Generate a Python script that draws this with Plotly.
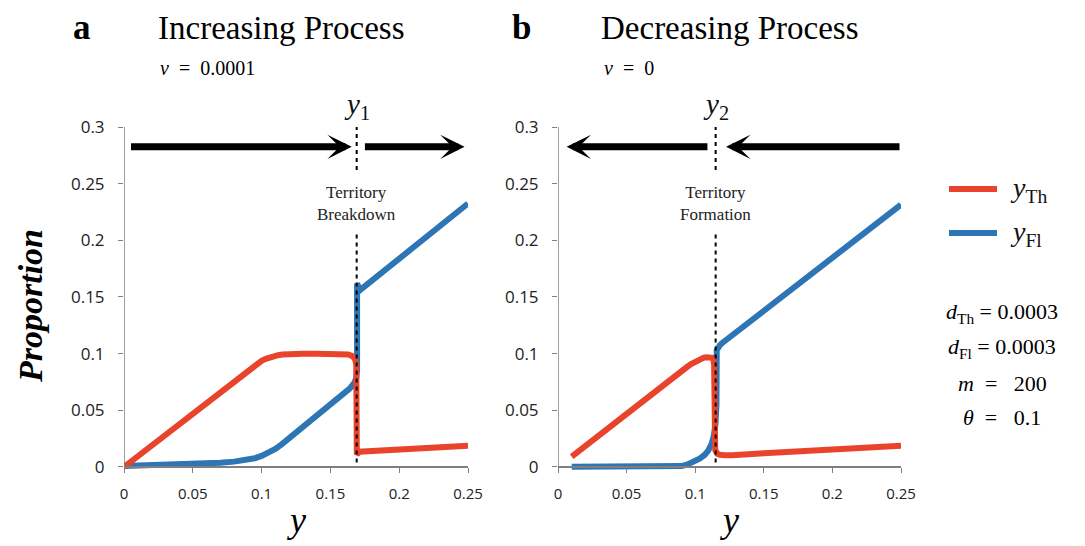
import plotly.graph_objects as go

# ---------------- data ----------------
# Panel a : increasing process (v = 0.0001)
a_th_x = [0.0, 0.01, 0.02, 0.03, 0.04, 0.05, 0.06, 0.07, 0.08, 0.09, 0.094, 0.097, 0.100, 0.103,
          0.106, 0.109, 0.112, 0.115, 0.118, 0.122, 0.13, 0.14, 0.15, 0.16, 0.163, 0.166, 0.168, 0.1688,
          0.1690, 0.1692, 0.171, 0.18, 0.20, 0.22, 0.25]
a_th_y = [0.0, 0.0095, 0.019, 0.0285, 0.038, 0.0475, 0.057, 0.0665, 0.0760, 0.0855, 0.0892, 0.0916, 0.0937, 0.0954,
          0.0967, 0.0978, 0.0986, 0.0992, 0.0996, 0.0998, 0.0999, 0.1000, 0.1000, 0.0997, 0.0992, 0.0978, 0.0950, 0.0905,
          0.0500, 0.0110, 0.0135, 0.0141, 0.0154, 0.0168, 0.0188]
a_fl_x = [0.0, 0.02, 0.04, 0.06, 0.07, 0.08, 0.09, 0.095, 0.10, 0.105, 0.11, 0.115, 0.12, 0.125,
          0.13, 0.14, 0.15, 0.155, 0.16, 0.164, 0.1675, 0.1688, 0.1694, 0.1694, 0.1715, 0.25]
a_fl_y = [0.0008, 0.0014, 0.0022, 0.0031, 0.0038, 0.0047, 0.0063, 0.0077, 0.0097, 0.0123, 0.0160, 0.0204, 0.0253, 0.0302,
          0.0352, 0.0453, 0.0552, 0.0598, 0.0648, 0.0692, 0.0745, 0.0785, 0.0850, 0.1620, 0.1560, 0.2325]

# Panel b : decreasing process (v = 0)
b_th_x = [0.010, 0.02, 0.03, 0.04, 0.05, 0.06, 0.07, 0.08, 0.09, 0.094, 0.097, 0.100, 0.102, 0.104, 0.106,
          0.108, 0.110, 0.1115, 0.1125, 0.1133, 0.1138, 0.1142, 0.1146, 0.116, 0.118, 0.122, 0.127, 0.15, 0.20, 0.25]
b_th_y = [0.0091, 0.0187, 0.0283, 0.0378, 0.0468, 0.0562, 0.0656, 0.0750, 0.0845, 0.0882, 0.0908, 0.0930, 0.0943, 0.0954, 0.0963,
          0.0969, 0.0972, 0.0971, 0.0964, 0.0945, 0.0900, 0.0500, 0.0150, 0.0118, 0.0108, 0.0103, 0.0103, 0.0121, 0.0155, 0.0188]
b_fl_x = [0.010, 0.05, 0.085, 0.09, 0.094, 0.098, 0.1035, 0.107, 0.1095, 0.112, 0.1135, 0.1148, 0.1155,
          0.1157, 0.1168, 0.1180, 0.1195, 0.125, 0.25]
b_fl_y = [0.0003, 0.0003, 0.0004, 0.0008, 0.0021, 0.0040, 0.0076, 0.0108, 0.0145, 0.0205, 0.0270, 0.0380, 0.0550,
          0.1030, 0.1058, 0.1075, 0.1092, 0.1143, 0.2315]

Y1 = 0.1691   # territory breakdown threshold
Y2 = 0.1149   # territory formation threshold

legend_names = ["<i>y</i><sub>Th</sub>", "<i>y</i><sub>Fl</sub>"]
params = ["<i>d</i><sub>Th</sub> = 0.0003",
          "<i>d</i><sub>Fl</sub> = 0.0003",
          "<i>m</i>\u00a0\u00a0=\u00a0\u00a0\u00a0200",
          "<i>θ</i>\u00a0\u00a0=\u00a0\u00a0\u00a00.1"]

# ---------------- styling ----------------
RED = "#E9432C"
BLUE = "#2E75B6"
SERIF = "Liberation Serif"
W, H = 1085, 546


def px_x(p):
    return p / W


def px_y(p):
    return (H - p) / H


fig = go.Figure()

# blue first so red is drawn on top
fig.add_trace(go.Scatter(x=a_fl_x, y=a_fl_y, mode="lines", line=dict(color=BLUE, width=6),
                         name=legend_names[1], showlegend=False, xaxis="x", yaxis="y"))
fig.add_trace(go.Scatter(x=a_th_x, y=a_th_y, mode="lines", line=dict(color=RED, width=6),
                         name=legend_names[0], showlegend=False, xaxis="x", yaxis="y"))
fig.add_trace(go.Scatter(x=b_fl_x, y=b_fl_y, mode="lines", line=dict(color=BLUE, width=6),
                         name=legend_names[1], showlegend=False, xaxis="x2", yaxis="y2"))
fig.add_trace(go.Scatter(x=b_th_x, y=b_th_y, mode="lines", line=dict(color=RED, width=6),
                         name=legend_names[0], showlegend=False, xaxis="x2", yaxis="y2"))

YMIN = -0.004
ydom = [(H - 471.5) / H, (H - 127) / H]
xpos = (H - 467) / H

xcommon = dict(showgrid=False, zeroline=False, ticks="outside", ticklen=5,
               tickcolor="#7f7f7f", tickwidth=1.2,
               tickfont=dict(family="Open Sans", size=15, color="#222"),
               range=[0, 0.25], dtick=0.05, tick0=0, anchor="free", position=xpos,
               showline=True, linecolor="#7f7f7f", linewidth=1.5, ticklabelstandoff=8)
ycommon = dict(showgrid=False, zeroline=False, ticks="outside", ticklen=5,
               tickcolor="#7f7f7f", tickwidth=1.2,
               tickfont=dict(family="Open Sans", size=17, color="#222"),
               domain=ydom, range=[YMIN, 0.3], dtick=0.05, tick0=0,
               showline=False, ticklabelstandoff=10)

fig.update_layout(
    width=W, height=H,
    margin=dict(l=0, r=0, t=0, b=0, pad=0, autoexpand=False),
    paper_bgcolor="white", plot_bgcolor="white",
    showlegend=False,
    xaxis=dict(domain=[px_x(124), px_x(468)], **xcommon),
    yaxis=dict(anchor="x", **ycommon),
    xaxis2=dict(domain=[px_x(558), px_x(901)], **xcommon),
    yaxis2=dict(anchor="x2", **ycommon),
)

shapes = []
# y axis lines (from 0 to 0.3 only)
for xr, yr in (("x", "y"), ("x2", "y2")):
    shapes.append(dict(type="line", xref=xr, yref=yr, x0=0, x1=0, y0=0, y1=0.3,
                       line=dict(color="#7f7f7f", width=1.5)))
# dashed threshold lines, interrupted by the text
for xr, yr, xv in (("x", "y", Y1), ("x2", "y2", Y2)):
    shapes.append(dict(type="line", xref=xr, yref=yr, x0=xv, x1=xv, y0=0.262, y1=0.3,
                       line=dict(color="black", width=2, dash="4px,4px")))
    shapes.append(dict(type="line", xref=xr, yref=yr, x0=xv, x1=xv, y0=0.004, y1=0.207,
                       line=dict(color="black", width=2, dash="4px,4px")))
# legend line samples
for col, yp in ((RED, 189), (BLUE, 233)):
    shapes.append(dict(type="line", xref="paper", yref="paper", x0=px_x(949), x1=px_x(997),
                       y0=px_y(yp), y1=px_y(yp), line=dict(color=col, width=6)))
fig.update_layout(shapes=shapes)

ann = []


def text(x, y, t, size, xref="paper", yref="paper", family=SERIF, color="black", **kw):
    d = dict(xref=xref, yref=yref, x=x, y=y, text=t, showarrow=False,
             xanchor=kw.pop("xanchor", "center"), yanchor=kw.pop("yanchor", "middle"),
             font=dict(family=family, size=size, color=color))
    d.update(kw)
    ann.append(d)


# arrows
ARROW_Y = 0.2825
arrow_style = dict(showarrow=True, text="", arrowhead=3, arrowsize=0.58, arrowwidth=7,
                   arrowcolor="black", standoff=0, startstandoff=0)
ann.append(dict(xref="x", yref="y", axref="x", ayref="y", x=0.1655, y=ARROW_Y, ax=0.004, ay=ARROW_Y, **arrow_style))
ann.append(dict(xref="x", yref="y", axref="x", ayref="y", x=0.2475, y=ARROW_Y, ax=0.174, ay=ARROW_Y, **arrow_style))
ann.append(dict(xref="x2", yref="y2", axref="x2", ayref="y2", x=0.0063, y=ARROW_Y, ax=0.110, ay=ARROW_Y, **arrow_style))
ann.append(dict(xref="x2", yref="y2", axref="x2", ayref="y2", x=0.1225, y=ARROW_Y, ax=0.25, ay=ARROW_Y, **arrow_style))

# threshold labels
text(Y1, px_y(106), "<i>y</i><sub>1</sub>", 29, xref="x", color="#111")
text(Y2, px_y(106), "<i>y</i><sub>2</sub>", 29, xref="x2", color="#111")
text(Y1, 0.2325, "Territory<br>Breakdown", 17, xref="x", yref="y", color="#222")
text(Y2, 0.2325, "Territory<br>Formation", 17, xref="x2", yref="y2", color="#222")

# panel titles
text(px_x(82), px_y(27), "<b>a</b>", 35)
text(px_x(521), px_y(27), "<b>b</b>", 35)
text(px_x(282), px_y(28), "Increasing Process", 33)
text(px_x(730), px_y(28), "Decreasing Process", 33)
text(px_x(158), px_y(68), "<i>v</i>\u00a0\u00a0=\u00a0\u00a00.0001", 20, xanchor="left")
text(px_x(602), px_y(68), "<i>v</i>\u00a0\u00a0=\u00a0\u00a00", 20, xanchor="left")

# axis titles
text(px_x(30), px_y(306), "<b><i>Proportion</i></b>", 34, textangle=-90)
text(0.125, px_y(520), "<i>y</i>", 36, xref="x")
text(0.125, px_y(520), "<i>y</i>", 36, xref="x2")

# legend texts
text(px_x(1008), px_y(189), legend_names[0], 28, xanchor="left", color="#111")
text(px_x(1008), px_y(233), legend_names[1], 28, xanchor="left", color="#111")

# parameter block
for t, yp in zip(params, (313, 348, 383, 417)):
    text(px_x(1002), px_y(yp), t, 22)

fig.update_layout(annotations=ann)

fig.write_html("out.html")
